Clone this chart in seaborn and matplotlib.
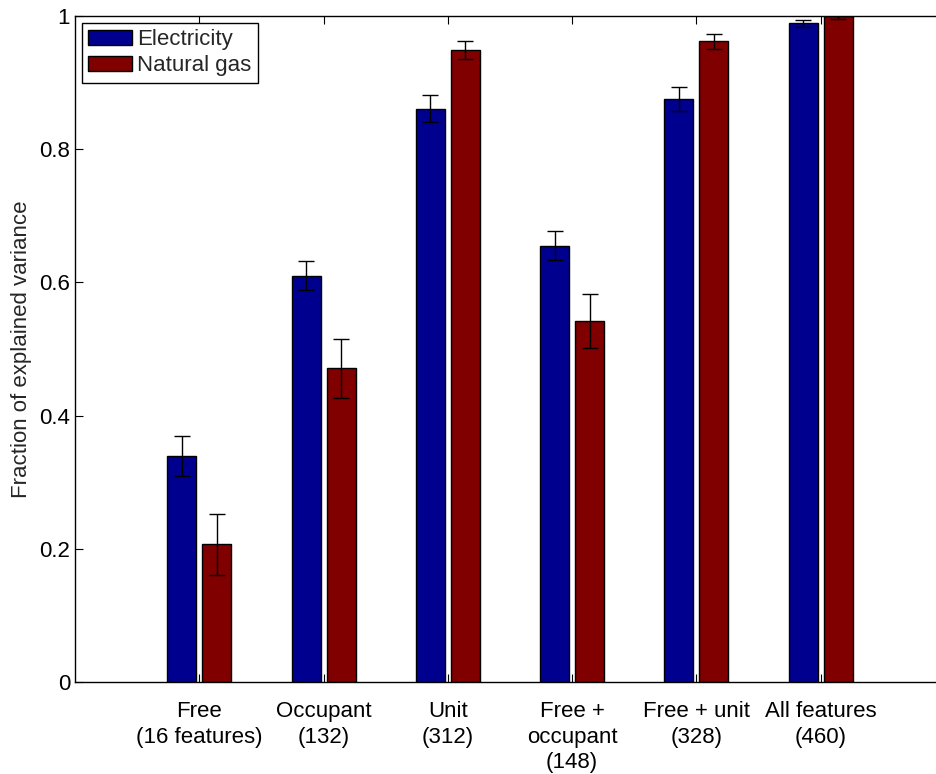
import matplotlib
matplotlib.use("Agg")
import matplotlib.pyplot as plt
import numpy as np
import pandas as pd
import seaborn as sns

# Feature sets and explained-variance results
categories = ["Free\n(16 features)", "Occupant\n(132)", "Unit\n(312)",
              "Free +\noccupant\n(148)", "Free + unit\n(328)", "All features\n(460)"]
electricity = [0.340, 0.610, 0.861, 0.655, 0.875, 0.989]
electricity_err = [0.030, 0.022, 0.020, 0.022, 0.018, 0.005]
natural_gas = [0.207, 0.471, 0.949, 0.542, 0.962, 1.000]
natural_gas_err = [0.046, 0.044, 0.013, 0.041, 0.011, 0.005]
series_names = ["Electricity", "Natural gas"]
y_ticks = [0, 0.2, 0.4, 0.6, 0.8, 1.0]
y_tick_labels = ["0", "0.2", "0.4", "0.6", "0.8", "1"]

sns.set_theme(style="white")
plt.rcParams["font.family"] = ["Liberation Sans", "DejaVu Sans"]

df = pd.DataFrame({
    "feature set": categories * 2,
    "value": electricity + natural_gas,
    "series": [series_names[0]] * len(categories) + [series_names[1]] * len(categories),
})

fig = plt.figure(figsize=(9.37, 7.74), dpi=100)
ax = fig.add_axes([75 / 937, 92 / 774, 870 / 937, 666 / 774])

palette = {series_names[0]: "#00008F", series_names[1]: "#800000"}
sns.barplot(data=df, x="feature set", y="value", hue="series", order=categories,
            hue_order=series_names, palette=palette, width=0.563, gap=0.17,
            errorbar=None, saturation=1, edgecolor="black", linewidth=1.0, ax=ax)

# error bars at the centre of each drawn bar
for container, errs in zip(ax.containers, [electricity_err, natural_gas_err]):
    xs = [p.get_x() + p.get_width() / 2 for p in container.patches]
    hs = [p.get_height() for p in container.patches]
    ax.errorbar(xs, hs, yerr=errs, fmt="none", ecolor="black", elinewidth=1.0,
                capsize=6, capthick=1.0, zorder=5)

ax.set_xlim(-1, 6)
ax.set_ylim(0, 1)
ax.set_yticks(y_ticks)
ax.set_yticklabels(y_tick_labels)
ax.set_xlabel("")
ax.set_ylabel("Fraction of explained variance", fontsize=16, labelpad=5)

for side in ["left", "right", "top", "bottom"]:
    ax.spines[side].set_visible(True)
    ax.spines[side].set_color("black")
    ax.spines[side].set_linewidth(1.0)

ax.tick_params(axis="both", which="both", direction="in", length=6, width=0.8,
               color="black", top=True, right=True, bottom=True, left=True,
               labelsize=16, labelcolor="black")
ax.tick_params(axis="x", pad=14)
for lbl in ax.get_xticklabels():
    lbl.set_linespacing(1.28)
    lbl.set_multialignment("center")

leg = ax.legend(loc="upper left", fontsize=16, frameon=True, fancybox=False,
                edgecolor="black", framealpha=1, borderaxespad=0.3,
                handlelength=1.95, handleheight=0.7, handletextpad=0.25,
                labelspacing=0.22, borderpad=0.3)
leg.get_frame().set_linewidth(1.0)

fig.savefig("out.png", dpi=100)
